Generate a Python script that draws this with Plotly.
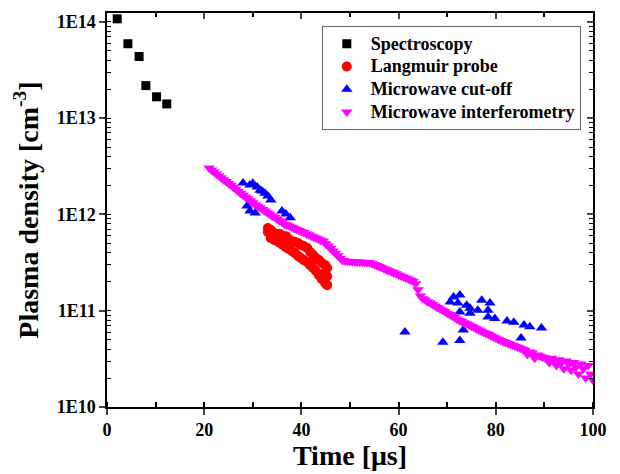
import plotly.graph_objects as go

# ---- data ----
spec_t = [2.1, 4.3, 6.6, 8.0, 10.2, 12.3]
spec_n = [1.07e14, 5.9e13, 4.35e13, 2.17e13, 1.66e13, 1.40e13]

lp_t = [33.1, 33.1, 33.7, 33.7, 34.4, 34.4, 35.0, 35.0, 35.6, 35.6, 36.2, 36.2,
        36.8, 36.8, 37.4, 37.4, 38.1, 38.1, 38.7, 38.7, 39.3, 39.3, 39.9, 39.9,
        40.5, 40.5, 41.2, 41.2, 41.8, 41.8, 42.4, 42.4, 43.0, 43.0, 43.6, 43.6,
        44.2, 44.2, 44.9, 44.9, 44.9, 45.3, 45.3, 45.3]
lp_n = [7.2e11, 6.55e11, 6.87e11, 5.67e11, 6.40e11, 5.41e11, 6.24e11, 5.27e11,
        6.24e11, 5.03e11, 5.94e11, 4.80e11, 5.94e11, 4.57e11, 5.53e11, 4.36e11,
        5.27e11, 4.15e11, 5.15e11, 3.96e11, 5.03e11, 3.69e11, 4.80e11, 3.52e11,
        4.68e11, 3.35e11, 4.47e11, 3.19e11, 4.06e11, 2.97e11, 3.78e11, 2.77e11,
        3.52e11, 2.58e11, 3.35e11, 2.34e11, 3.12e11, 2.12e11, 2.97e11, 2.51e11,
        1.93e11, 2.77e11, 2.28e11, 1.84e11]

co_t = [28.0, 29.4, 30.9, 31.9, 32.5, 33.1, 33.7, 28.8, 29.4, 30.5, 36.0, 36.8,
        37.7, 31.5, 30.0,
        61.3, 69.1, 71.3, 72.6, 70.6, 72.2, 74.0, 74.7, 72.6, 74.7, 77.1, 78.8,
        76.3, 78.4, 78.4, 79.8, 73.3, 72.6, 82.3, 83.7, 85.8, 87.0, 89.4, 85.2]
co_n = [2.11e12, 2.02e12, 1.92e12, 1.75e12, 1.66e12, 1.55e12, 1.41e12, 1.22e12,
        1.08e12, 1.03e12, 1.08e12, 1.01e12, 9.2e11, 1.78e12, 2.10e12,
        6.0e10, 4.7e10, 1.39e11, 1.45e11, 1.23e11, 1.20e11, 1.14e11, 1.06e11,
        9.7e10, 9.4e10, 1.28e11, 1.20e11, 1.01e11, 1.01e11, 8.6e10, 8.3e10,
        6.3e10, 4.9e10, 7.8e10, 7.6e10, 7.1e10, 6.8e10, 6.6e10, 5.2e10]

mi_t = [21.0, 21.5, 22.0, 22.5, 23.0, 23.5, 24.0, 24.5, 25.0, 25.5, 26.0, 26.5,
        27.0, 27.5, 28.0, 28.5, 29.0, 29.5, 30.0, 30.5, 31.0, 31.5, 32.0, 32.5,
        33.0, 33.5, 34.0, 34.5, 35.0, 35.5, 36.0, 36.5, 37.0, 37.5, 38.0, 38.5,
        39.0, 39.5, 40.0, 40.5, 41.0, 41.5, 42.0, 42.5, 43.0, 43.5, 44.0, 44.5,
        45.0, 45.5, 46.0, 46.5, 47.0, 47.5, 48.0, 48.5, 49.0, 49.5, 50.0, 50.5,
        51.0, 51.5, 52.0, 52.5, 53.0, 53.5, 54.0, 54.5, 55.0, 55.5, 56.0, 56.5,
        57.0, 57.5, 58.0, 58.5, 59.0, 59.5, 60.0, 60.5, 61.0, 61.5, 62.0, 62.5,
        63.0, 63.5, 64.0, 64.5, 65.0, 65.5, 66.0, 66.5, 67.0, 67.5, 68.0, 68.5,
        69.0, 69.5, 70.0, 70.5, 71.0, 71.5, 72.0, 72.5, 73.0, 73.5, 74.0, 74.5,
        75.0, 75.5, 76.0, 76.5, 77.0, 77.5, 78.0, 78.5, 79.0, 79.5, 80.0, 80.5,
        81.0, 81.5, 82.0, 82.5, 83.0, 83.5, 84.0, 84.5, 85.0, 85.5, 86.0, 86.5,
        87.0, 87.5, 88.0, 88.5, 89.0, 89.5, 90.0, 90.5, 91.0, 91.5, 92.0, 92.5,
        93.0, 93.5, 94.0, 94.5, 95.0, 95.5, 96.0, 96.5, 97.0, 97.5, 98.0, 98.5,
        99.0, 99.5, 100.0]
mi_n = [3.02e12, 2.88e12, 2.75e12, 2.63e12, 2.51e12, 2.40e12, 2.29e12, 2.19e12,
        2.09e12, 2.00e12, 1.91e12, 1.82e12, 1.74e12, 1.66e12, 1.58e12, 1.51e12,
        1.45e12, 1.38e12, 1.32e12, 1.26e12, 1.21e12, 1.17e12, 1.12e12, 1.08e12,
        1.04e12, 1.00e12, 9.6e11, 9.3e11, 8.9e11, 8.6e11, 8.3e11, 7.9e11,
        7.74e11, 7.55e11, 7.35e11, 7.16e11, 6.98e11, 6.81e11, 6.63e11, 6.46e11,
        6.29e11, 6.14e11, 5.97e11, 5.82e11, 5.68e11, 5.53e11, 5.38e11, 5.25e11,
        4.95e11, 4.68e11, 4.42e11, 4.17e11, 3.94e11, 3.72e11, 3.51e11, 3.31e11,
        3.27e11, 3.26e11, 3.24e11, 3.24e11, 3.22e11, 3.20e11, 3.20e11, 3.18e11,
        3.16e11, 3.16e11, 3.15e11, 3.09e11, 3.01e11, 2.94e11, 2.87e11, 2.80e11,
        2.73e11, 2.66e11, 2.60e11, 2.53e11, 2.47e11, 2.41e11, 2.35e11, 2.29e11,
        2.23e11, 2.18e11, 2.13e11, 2.07e11, 2.02e11, 1.90e11, 1.65e11, 1.42e11,
        1.33e11, 1.29e11, 1.24e11, 1.20e11, 1.16e11, 1.12e11, 1.08e11, 1.05e11,
        1.01e11, 9.8e10, 9.4e10, 9.1e10, 8.8e10, 8.5e10, 8.2e10, 7.9e10,
        7.7e10, 7.5e10, 7.3e10, 7.1e10, 6.9e10, 6.7e10, 6.5e10, 6.3e10,
        6.15e10, 5.97e10, 5.8e10, 5.65e10, 5.48e10, 5.33e10, 5.19e10, 5.04e10,
        4.9e10, 4.79e10, 4.68e10, 4.57e10, 4.47e10, 4.37e10, 4.27e10, 4.17e10,
        4.07e10, 3.98e10, 3.89e10, 3.5e10, 3.72e10, 3.63e10, 3.2e10, 3.47e10,
        3.39e10, 3.31e10, 3.24e10, 3.16e10, 2.9e10, 3.2e10, 3.0e10, 2.7e10,
        3.1e10, 2.9e10, 2.5e10, 3.0e10, 2.8e10, 2.4e10, 2.9e10, 2.6e10,
        2.2e10, 2.8e10, 2.5e10, 2.0e10, 2.7e10, 2.2e10, 1.9e10]

y_tickvals = [1e10, 1e11, 1e12, 1e13, 1e14]
y_ticktext = ["1E10", "1E11", "1E12", "1E13", "1E14"]
x_tickvals = [0, 20, 40, 60, 80, 100]
x_ticktext = ["0", "20", "40", "60", "80", "100"]
legend_names = ["Spectroscopy", "Langmuir probe", "Microwave cut-off",
                "Microwave interferometry"]

FONT = "Liberation Serif"
def b(s):
    return "<b>" + s + "</b>"
def lg(s):
    return '<span style="font-size:18px"><b>' + s + "</b></span>"

fig = go.Figure()
fig.add_trace(go.Scatter(x=spec_t, y=spec_n, mode="markers", name=lg(legend_names[0]),
                         legendrank=1,
                         marker=dict(symbol="square", size=9, color="black")))
fig.add_trace(go.Scatter(x=lp_t, y=lp_n, mode="markers", name=lg(legend_names[1]),
                         legendrank=2,
                         marker=dict(symbol="circle", size=10, color="#ff0000")))
fig.add_trace(go.Scatter(x=co_t, y=co_n, mode="markers", name=lg(legend_names[2]),
                         legendrank=3,
                         marker=dict(symbol="triangle-up", size=10, color="#0000ff")))
fig.add_trace(go.Scatter(x=mi_t, y=mi_n, mode="markers", name=lg(legend_names[3]),
                         legendrank=4,
                         marker=dict(symbol="triangle-down", size=10, color="#ff00ff")))
# invisible helper trace so the mirrored (top/right) frame axes are drawn
fig.add_trace(go.Scatter(x=[None], y=[None], xaxis="x2", yaxis="y2", mode="markers",
                         showlegend=False, hoverinfo="skip"))

yr = [10, 14.09]
xr = [0, 100]
# page body has an 8px margin: figure is 612x466 placed at (8, 8)
fig.update_layout(
    width=612, height=466,
    margin=dict(l=99, r=27, t=5, b=67),
    paper_bgcolor="white", plot_bgcolor="white",
    font=dict(family=FONT, size=17, color="black"),
    showlegend=True,
    legend=dict(x=0.442, y=0.966, xanchor="left", yanchor="top",
                bordercolor="#666666", borderwidth=1, bgcolor="white",
                font=dict(family=FONT, size=15.2, color="black"),
                traceorder="normal", itemwidth=38, tracegroupgap=0),
    xaxis=dict(range=xr, tickvals=x_tickvals, ticktext=[b(t) for t in x_ticktext],
               ticks="outside", ticklen=6, automargin=False,
               tickwidth=1.5, linecolor="black", linewidth=1.5, showline=True,
               showgrid=False, zeroline=False,
               tickfont=dict(family=FONT, size=18),
               minor=dict(dtick=10, ticks="inside", ticklen=5, tickwidth=1.5,
                          tickcolor="black", showgrid=False),
               title=dict(text=b("Time [μs]"), standoff=4,
                          font=dict(family=FONT, size=28))),
    yaxis=dict(type="log", range=yr, tickvals=y_tickvals,
               ticktext=[b(t) for t in y_ticktext], automargin=False,
               ticks="outside", ticklen=6, tickwidth=1.5, linecolor="black",
               linewidth=1.5, showline=True, showgrid=False, zeroline=False,
               tickfont=dict(family=FONT, size=18),
               minor=dict(dtick="D1", ticks="inside", ticklen=4, tickwidth=1.2,
                          tickcolor="black", showgrid=False),
               title=dict(text=b("Plasma density [cm<sup>-3</sup>]"), standoff=10,
                          font=dict(family=FONT, size=28))),
    xaxis2=dict(range=xr, overlaying="x", side="top", anchor="y", tickvals=x_tickvals,
                ticks="inside", ticklen=6, tickwidth=1.5, showticklabels=False,
                showline=True, linecolor="black", linewidth=1.5, showgrid=False,
                zeroline=False, automargin=False,
                minor=dict(dtick=10, ticks="inside", ticklen=4, tickwidth=1.5,
                           tickcolor="black", showgrid=False)),
    yaxis2=dict(type="log", range=yr, overlaying="y", side="right", anchor="x",
                tickvals=y_tickvals, ticks="inside", ticklen=6, tickwidth=1.5,
                showticklabels=False, showline=True, linecolor="black",
                linewidth=1.5, showgrid=False, zeroline=False, automargin=False,
                minor=dict(dtick="D1", ticks="inside", ticklen=4, tickwidth=1.2,
                           tickcolor="black", showgrid=False)),
)

fig.write_html("out.html")
